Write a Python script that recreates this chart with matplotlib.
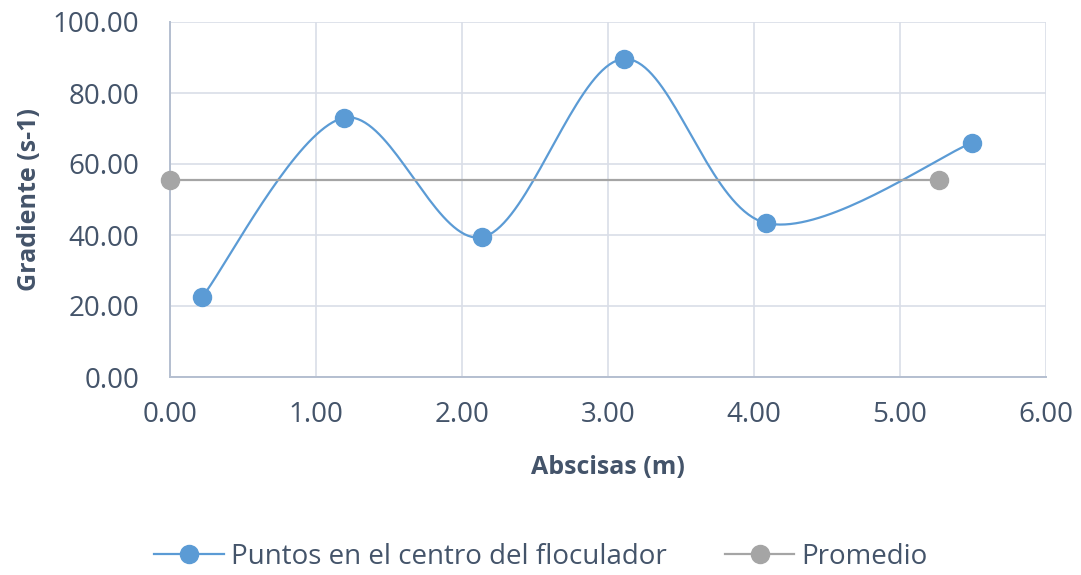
import numpy as np
import matplotlib
matplotlib.use("Agg")
import matplotlib.pyplot as plt

# measured gradient along the flocculator centre line
abscisas = [0.22, 1.19, 2.14, 3.11, 4.08, 5.49]
gradiente = [22.5, 73.0, 39.4, 89.6, 43.4, 65.9]

# average line drawn between its two end points
prom_x = [0.00, 5.27]
prom_y = [55.6, 55.6]

xticks = [0, 1, 2, 3, 4, 5, 6]
yticks = [0, 20, 40, 60, 80, 100]

TEXT = "#44546A"
BLUE = "#5B9BD5"
GRAY = "#A5A5A5"


def smooth(xs, ys, n=40):
    # Catmull-Rom style bezier smoothing, like spreadsheet "smoothed line"
    p = np.column_stack([xs, ys]).astype(float)
    p = np.vstack([p[0], p, p[-1]])
    out = []
    for i in range(1, len(p) - 2):
        p0, p1, p2, p3 = p[i - 1], p[i], p[i + 1], p[i + 2]
        c1 = p1 + (p2 - p0) / 6
        c2 = p2 - (p3 - p1) / 6
        t = np.linspace(0, 1, n)[:, None]
        seg = ((1 - t) ** 3 * p1 + 3 * (1 - t) ** 2 * t * c1
               + 3 * (1 - t) * t ** 2 * c2 + t ** 3 * p2)
        out.append(seg if i == 1 else seg[1:])
    seg = np.vstack(out)
    return seg[:, 0], seg[:, 1]


plt.rcParams['font.family'] = ['Open Sans', 'DejaVu Sans']

fig = plt.figure(figsize=(10.81, 5.75), dpi=100)
ax = fig.add_axes([170 / 1081, 1 - 377 / 575, 876 / 1081, 355 / 575])

sx, sy = smooth(abscisas, gradiente)
ax.plot(sx, sy, color=BLUE, lw=1.6, zorder=3)
ax.plot(abscisas, gradiente, 'o', color=BLUE, ms=13, zorder=4)
ax.plot(prom_x, prom_y, color=GRAY, lw=1.6, marker='o', ms=13, zorder=3,
        clip_on=False)

# proxies for the legend
ax.plot([], [], color=BLUE, lw=1.6, marker='o', ms=13,
        label='Puntos en el centro del floculador')
ax.plot([], [], color=GRAY, lw=1.6, marker='o', ms=13, label='Promedio')

ax.set_xlim(0, 6)
ax.set_ylim(0, 100)
ax.set_xticks(xticks)
ax.set_yticks(yticks)
ax.set_xticklabels([f"{v:.2f}" for v in xticks])
ax.set_yticklabels([f"{v:.2f}" for v in yticks])
ax.tick_params(length=0, labelsize=20, labelcolor=TEXT)
ax.tick_params(axis='y', pad=22)
ax.tick_params(axis='x', pad=17)
ax.grid(True, color="#D9DEE8", lw=1.2)
ax.set_axisbelow(True)
for s in ['top', 'right']:
    ax.spines[s].set_visible(False)
for s in ['left', 'bottom']:
    ax.spines[s].set_color("#B4BFD0")
    ax.spines[s].set_linewidth(1.4)

ax.set_xlabel('Abscisas (m)', fontsize=18, fontweight='bold', color=TEXT)
ax.set_ylabel('Gradiente (s-1)', fontsize=18, fontweight='bold', color=TEXT)
ax.xaxis.set_label_coords(0.5, 1 - (455 - 22) / 355, transform=ax.transAxes)
ax.yaxis.set_label_coords(42 / 1081, 1 - 199.5 / 575, transform=fig.transFigure)

leg = fig.legend(handles=ax.get_lines()[-2:], loc='center',
                 bbox_to_anchor=(541 / 1081, 1 - 557 / 575), ncol=2,
                 frameon=False, fontsize=20, handlelength=2.5,
                 columnspacing=2.1, handletextpad=0.25)
for t in leg.get_texts():
    t.set_color(TEXT)

fig.savefig('out.png', dpi=100)
